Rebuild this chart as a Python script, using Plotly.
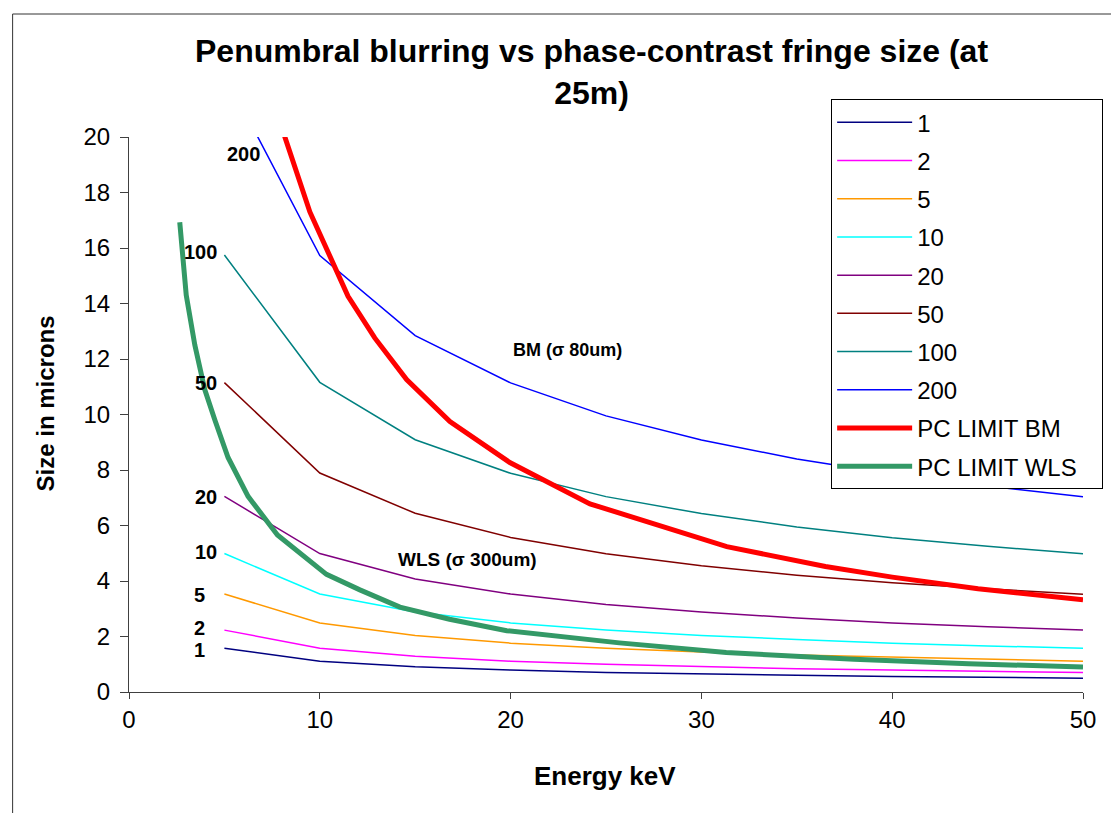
import plotly.graph_objects as go

# ---- data ----
energy = [5, 10, 15, 20, 25, 30, 35, 40, 45, 50]
series_names = ["1", "2", "5", "10", "20", "50", "100", "200"]
s1 = [1.58, 1.11, 0.91, 0.79, 0.70, 0.64, 0.60, 0.56, 0.52, 0.50]
s2 = [2.23, 1.58, 1.29, 1.11, 1.00, 0.91, 0.84, 0.79, 0.74, 0.70]
s5 = [3.53, 2.49, 2.04, 1.76, 1.58, 1.44, 1.33, 1.25, 1.18, 1.11]
s10 = [4.99, 3.53, 2.88, 2.49, 2.23, 2.04, 1.89, 1.76, 1.66, 1.58]
s20 = [7.05, 4.99, 4.07, 3.53, 3.15, 2.88, 2.67, 2.49, 2.35, 2.23]
s50 = [11.15, 7.89, 6.44, 5.57, 4.98, 4.55, 4.21, 3.94, 3.72, 3.52]
s100 = [15.75, 11.16, 9.09, 7.88, 7.04, 6.43, 5.95, 5.56, 5.25, 4.98]
s200 = [22.3, 15.73, 12.84, 11.14, 9.95, 9.08, 8.40, 7.86, 7.42, 7.04]
series_values = [s1, s2, s5, s10, s20, s50, s100, s200]

bm_energy = [7.2, 8.17, 9.48, 11.48, 12.88, 14.55, 16.82, 19.96, 24.16, 31.33, 36.5, 40.0, 44.5, 50.0]
bm_size = [22.9, 20.0, 17.3, 14.26, 12.76, 11.26, 9.75, 8.27, 6.78, 5.24, 4.52, 4.14, 3.72, 3.32]

wls_energy = [2.66, 3.0, 3.45, 3.97, 4.5, 5.19, 6.24, 7.78, 10.35, 12.1, 14.2, 16.8, 19.8, 25.7, 31.3, 38.0, 44.0, 50.0]
wls_size = [16.93, 14.3, 12.5, 10.9, 9.8, 8.45, 7.05, 5.66, 4.24, 3.68, 3.06, 2.62, 2.21, 1.77, 1.42, 1.18, 1.02, 0.90]

# curve label annotations (text, x, y)
curve_labels = ["200", "100", "50", "20", "10", "5", "2", "1"]
label_x = [6.95, 4.7, 4.7, 4.7, 4.7, 4.1, 4.1, 4.1]
label_y = [19.4, 15.85, 11.15, 7.03, 5.05, 3.5, 2.31, 1.52]

colors = ["#000080", "#FF00FF", "#FF9900", "#00FFFF", "#800080", "#800000", "#008080", "#0000FF"]

PAD = "\u00a0" * 3  # widen legend box so it reaches the right edge like the original

fig = go.Figure()
for i, (name, vals) in enumerate(zip(series_names, series_values)):
    fig.add_trace(go.Scatter(x=energy, y=vals, mode="lines", name=name,
                             legendgroup=name,
                             line=dict(color=colors[i], width=1.5)))
fig.add_trace(go.Scatter(x=bm_energy, y=bm_size, mode="lines", name="PC LIMIT BM",
                         legendgroup="bm", line=dict(color="#FF0000", width=5)))
fig.add_trace(go.Scatter(x=wls_energy, y=wls_size, mode="lines", name="PC LIMIT WLS" + PAD,
                         legendgroup="wls", line=dict(color="#339966", width=5)))

annotations = []
for t, x, y in zip(curve_labels, label_x, label_y):
    annotations.append(dict(text=t, x=x, y=y, xref="x", yref="y", xanchor="right",
                            yanchor="middle", showarrow=False,
                            font=dict(family="Arial", size=20, color="black", weight="bold")))
annotations.append(dict(text="BM (σ 80um)", x=20.0, y=12.34, xref="x", yref="y",
                        xanchor="left", yanchor="middle", showarrow=False,
                        font=dict(family="Arial", size=18, color="black", weight="bold")))
annotations.append(dict(text="WLS (σ 300um)", x=14.0, y=4.76, xref="x", yref="y",
                        xanchor="left", yanchor="middle", showarrow=False,
                        font=dict(family="Arial", size=19, color="black", weight="bold")))
# title
annotations.append(dict(text="Penumbral blurring vs phase-contrast fringe size (at<br>25m)",
                        x=0.485, y=1.118, xref="paper", yref="paper", xanchor="center",
                        yanchor="middle", showarrow=False,
                        font=dict(family="Arial", size=32, color="black", weight="bold")))
# axis titles
annotations.append(dict(text="Energy keV", x=0.499, y=-0.151, xref="paper", yref="paper",
                        xanchor="center", yanchor="middle", showarrow=False,
                        font=dict(family="Arial", size=26, color="black", weight="bold")))
annotations.append(dict(text="Size in microns", x=-0.088, y=0.52, xref="paper", yref="paper",
                        xanchor="center", yanchor="middle", showarrow=False, textangle=-90,
                        font=dict(family="Arial", size=24, color="black", weight="bold")))

fig.update_layout(
    width=1111, height=813,
    margin=dict(l=129, r=28, t=137, b=121, autoexpand=False),
    paper_bgcolor="white", plot_bgcolor="white",
    showlegend=True,
    legend=dict(x=0.736, y=1.068, xanchor="left", yanchor="top",
                bgcolor="white", bordercolor="black", borderwidth=1,
                font=dict(family="Arial", size=24, color="black"),
                traceorder="grouped", tracegroupgap=4, itemwidth=75),
    annotations=annotations,
    shapes=[dict(type="rect", xref="paper", yref="paper",
                 x0=-0.122, x1=1.05, y0=-0.25, y1=1.2216,
                 line=dict(color="#333333", width=1), layer="below")],
)
fig.update_xaxes(range=[0, 50], dtick=10, showgrid=False, zeroline=False,
                 showline=True, linecolor="#404040", linewidth=1,
                 ticks="outside", ticklen=6, tickcolor="#404040",
                 tickfont=dict(family="Arial", size=24, color="black"))
fig.update_yaxes(range=[0, 20], dtick=2, showgrid=False, zeroline=False,
                 showline=True, linecolor="#404040", linewidth=1,
                 ticks="outside", ticklen=8, tickcolor="#404040", ticklabelstandoff=5,
                 tickfont=dict(family="Arial", size=24, color="black"))

fig.write_html("out.html")
